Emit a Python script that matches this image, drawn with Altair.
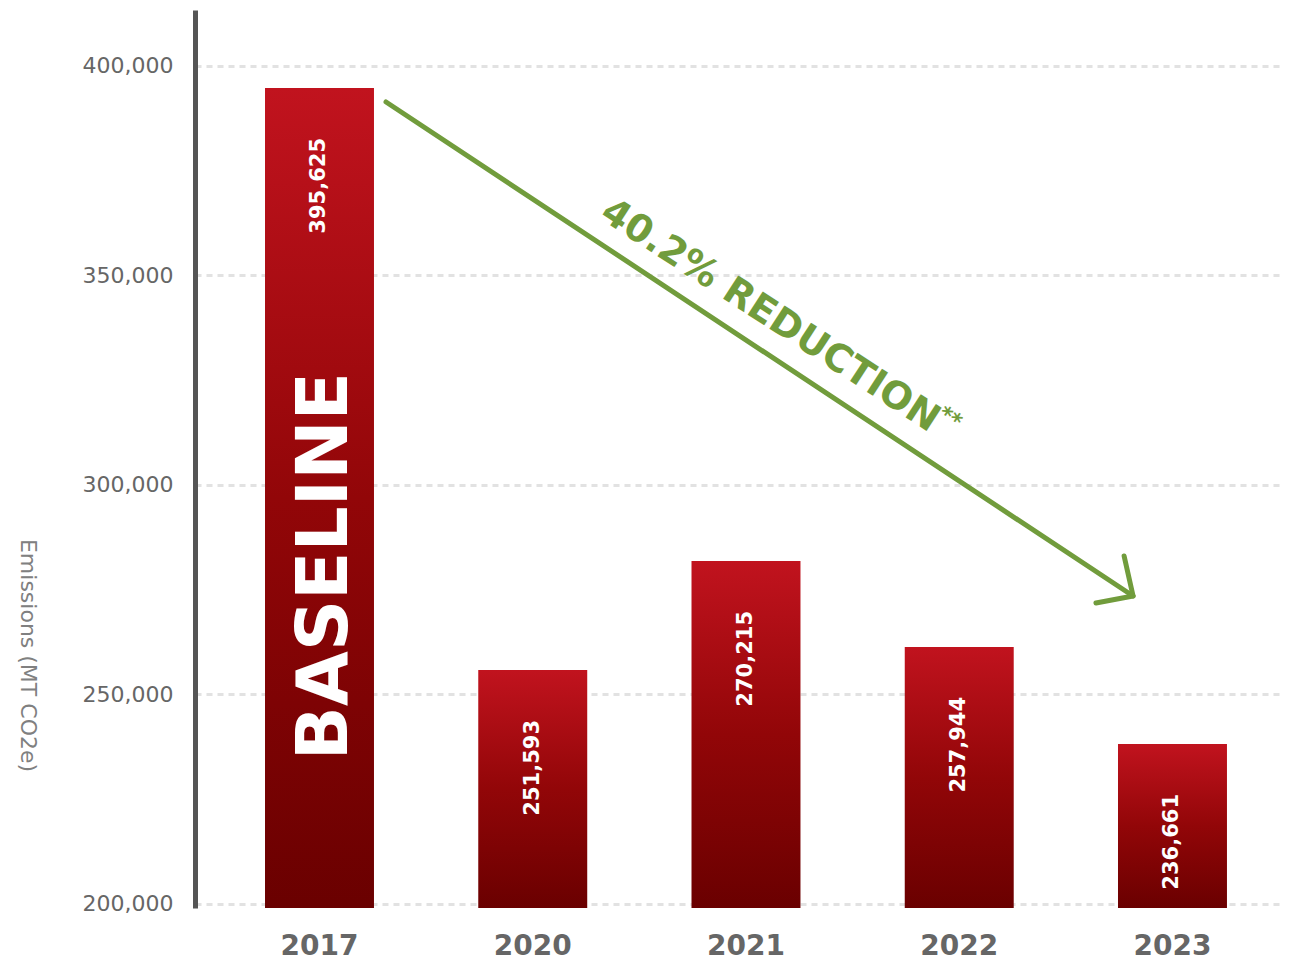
import altair as alt
import pandas as pd

# ---------------- data ----------------
years = ["2017", "2020", "2021", "2022", "2023"]
bar_values = [394680, 255800, 281810, 261290, 238140]          # bar heights as drawn
value_labels = ["395,625", "251,593", "270,215", "257,944", "236,661"]
y_ticks = [200000, 250000, 300000, 350000, 400000]
y_domain = [199000, 413290]

baseline_year = ["2017"]
baseline_value = [280600]
baseline_text = ["BASELINE"]

# annotation arrow, x in "bar index" units (0 = 2017 ... 4 = 2023)
arrow_seg = ["shaft", "shaft", "head", "head", "head"]
arrow_ord = [0, 1, 0, 1, 2]
arrow_x = [0.312, 3.815, 3.773, 3.815, 3.641]
arrow_y = [391340, 273460, 283000, 273460, 271790]

reduction_x = [2.1125, 2.957]
reduction_y = [340270, 315930]
reduction_text = ["40.2% REDUCTION", "**"]
reduction_size = [38, 22]

# ---------------- styling ----------------
FONT = "DejaVu Sans"
GREEN = "#719c3c"
index_domain = [-0.5838, 4.504]

bars_df = pd.DataFrame({"year": years, "value": bar_values, "label": value_labels})
base_df = pd.DataFrame({"year": baseline_year, "value": baseline_value, "text": baseline_text})
arrow_df = pd.DataFrame({"seg": arrow_seg, "ord": arrow_ord, "ax": arrow_x, "value": arrow_y})
red_df = pd.DataFrame({"ax": reduction_x, "value": reduction_y,
                       "text": reduction_text, "size": reduction_size})

x_band = alt.X(
    "year:N",
    sort=years,
    scale=alt.Scale(domain=years, paddingInner=0.489, paddingOuter=0.2885, align=0.569),
    axis=alt.Axis(
        title=None, domain=False, ticks=False, labelAngle=0, labelPadding=24,
        labelFont=FONT, labelFontSize=28, labelFontWeight="bold", labelColor="#666666",
    ),
)

y_enc = alt.Y(
    "value:Q",
    scale=alt.Scale(domain=y_domain, nice=False, zero=False),
    axis=alt.Axis(
        title="Emissions (MT CO2e)", values=y_ticks, format=",d",
        ticks=False, domain=True, domainColor="#555555", domainWidth=5,
        grid=True, gridColor="#e2e2e2", gridDash=[6, 5], gridWidth=3,
        labelFont=FONT, labelFontSize=22, labelColor="#666666", labelPadding=22,
        titleFont=FONT, titleFontSize=22, titleFontWeight="normal", titleColor="#808080",
        titleAngle=90, titleAlign="center", titleBaseline="middle",
        titleX=-168, titleY=645,
    ),
)

x_idx = alt.X("ax:Q", scale=alt.Scale(domain=index_domain, nice=False, zero=False), axis=None)

gradient = alt.Gradient(
    gradient="linear",
    stops=[
        alt.GradientStop(color="#c1131e", offset=0),
        alt.GradientStop(color="#920608", offset=0.5),
        alt.GradientStop(color="#6a0000", offset=1),
    ],
    x1=0, x2=0, y1=0, y2=1,
)

bars = alt.Chart(bars_df).mark_bar(color=gradient).encode(
    x=x_band, y=y_enc, y2=alt.datum(y_domain[0])
)

labels = alt.Chart(bars_df).mark_text(
    angle=270, align="right", baseline="middle", dx=-50,
    font=FONT, fontSize=21, fontWeight="bold", color="white",
).encode(x=x_band, y=y_enc, text="label:N")

baseline = alt.Chart(base_df).mark_text(
    angle=270, align="center", baseline="middle", dy=7,
    font=FONT, fontSize=71, fontWeight="bold", color="white",
).encode(x=x_band, y=y_enc, text="text:N")

arrow = alt.Chart(arrow_df).mark_line(
    color=GREEN, strokeWidth=5, strokeCap="round", strokeJoin="round"
).encode(x=x_idx, y=y_enc, detail="seg:N", order="ord:Q")

reduction = alt.Chart(red_df).mark_text(
    angle=33, align="center", baseline="middle",
    font=FONT, fontWeight="bold", color=GREEN,
).encode(
    x=x_idx, y=y_enc, text="text:N",
    size=alt.Size("size:Q", scale=None, legend=None),
)

band_layers = alt.layer(bars, labels, baseline)
annot_layers = alt.layer(arrow, reduction)

chart = (
    alt.layer(band_layers, annot_layers)
    .resolve_scale(x="independent")
    .properties(
        width=1085, height=898,
        autosize=alt.AutoSizeParams(type="none"),
        padding={"left": 187, "top": 2, "right": 0, "bottom": 52},
        background="white",
    )
    .configure_view(stroke=None)
)

chart.save("out.html", embed_options={"renderer": "svg", "actions": False})
